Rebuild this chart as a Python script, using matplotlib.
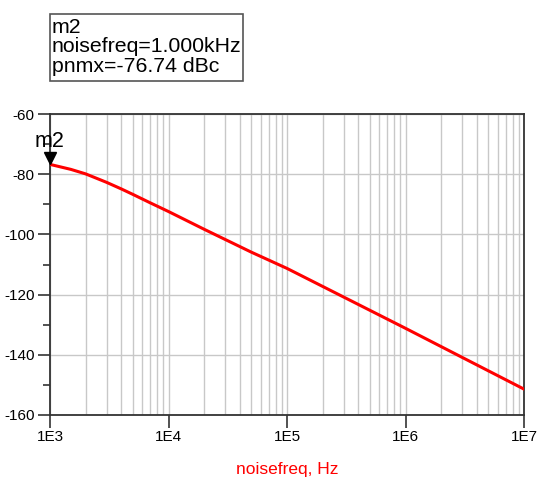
import numpy as np
import matplotlib.pyplot as plt
from matplotlib.patches import Rectangle
from matplotlib.ticker import FixedLocator, NullFormatter, LogLocator

plt.rcParams['font.family'] = ['Liberation Sans', 'DejaVu Sans']

# phase noise trace
noise_freq = [1e3, 1.5e3, 2e3, 3e3, 4e3, 5e3, 7e3, 1e4, 2e4, 5e4, 1e5, 1e6, 1e7]
pnmx = [-76.74, -78.4, -79.9, -82.7, -84.9, -86.7, -89.5, -92.4, -98.3,
        -105.9, -111.3, -131.2, -151.4]

y_ticks = [-60, -80, -100, -120, -140, -160]
x_ticks = [1e3, 1e4, 1e5, 1e6, 1e7]
x_labels = ["1E3", "1E4", "1E5", "1E6", "1E7"]

marker_name = "m2"
marker_lines = ["m2", "noisefreq=1.000kHz", "pnmx=-76.74 dBc"]

W, H = 537, 482
fig = plt.figure(figsize=(W / 100, H / 100), dpi=100)
ax = fig.add_axes([50 / W, 1 - 415 / H, (524 - 50) / W, (415 - 114) / H])

ax.plot(noise_freq, pnmx, color="#ff0000", lw=2.2, zorder=3)
ax.set_xscale("log")
ax.set_xlim(1e3, 1e7)
ax.set_ylim(-160, -60)

# grid
ax.xaxis.set_minor_locator(LogLocator(base=10, subs=np.arange(2, 10)))
ax.xaxis.set_minor_formatter(NullFormatter())
ax.grid(True, which="both", axis="x", color="#c8c8c8", lw=1)
ax.grid(True, which="major", axis="y", color="#c8c8c8", lw=1)
ax.tick_params(axis="x", which="minor", length=0)

ax.set_xticks(x_ticks)
ax.set_xticklabels(x_labels)
ax.set_yticks(y_ticks)
ax.set_yticklabels([str(v) for v in y_ticks])
ax.yaxis.set_minor_locator(FixedLocator([-70, -90, -110, -130, -150]))
ax.tick_params(axis="both", which="major", length=9, width=1.2, color="#333333",
               labelsize=11, pad=2)
ax.tick_params(axis="y", which="minor", length=5, width=1.2, color="#333333")

for s in ax.spines.values():
    s.set_color("#333333")
    s.set_linewidth(1.3)

ax.set_xlabel("noisefreq, Hz", color="#ff0000", fontsize=12.5, labelpad=13)

# marker
ax.plot([noise_freq[0]], [pnmx[0] + 2.2], marker="v", color="black", ms=8,
        clip_on=False, zorder=5)
ax.annotate(marker_name, (noise_freq[0], pnmx[0]), xytext=(0, 9),
            textcoords="offset points", ha="center", va="bottom",
            fontsize=15.5, annotation_clip=False)

# marker readout box
fig.patches.append(Rectangle((50 / W, 1 - 81 / H), (243 - 50) / W, (81 - 14) / H,
                             transform=fig.transFigure, fill=False,
                             edgecolor="#555555", lw=1.2))
fig.text(52 / W, 1 - 18 / H, "\n".join(marker_lines), ha="left", va="top",
         fontsize=15.3, linespacing=1.02)

fig.savefig("out.png", dpi=100)
